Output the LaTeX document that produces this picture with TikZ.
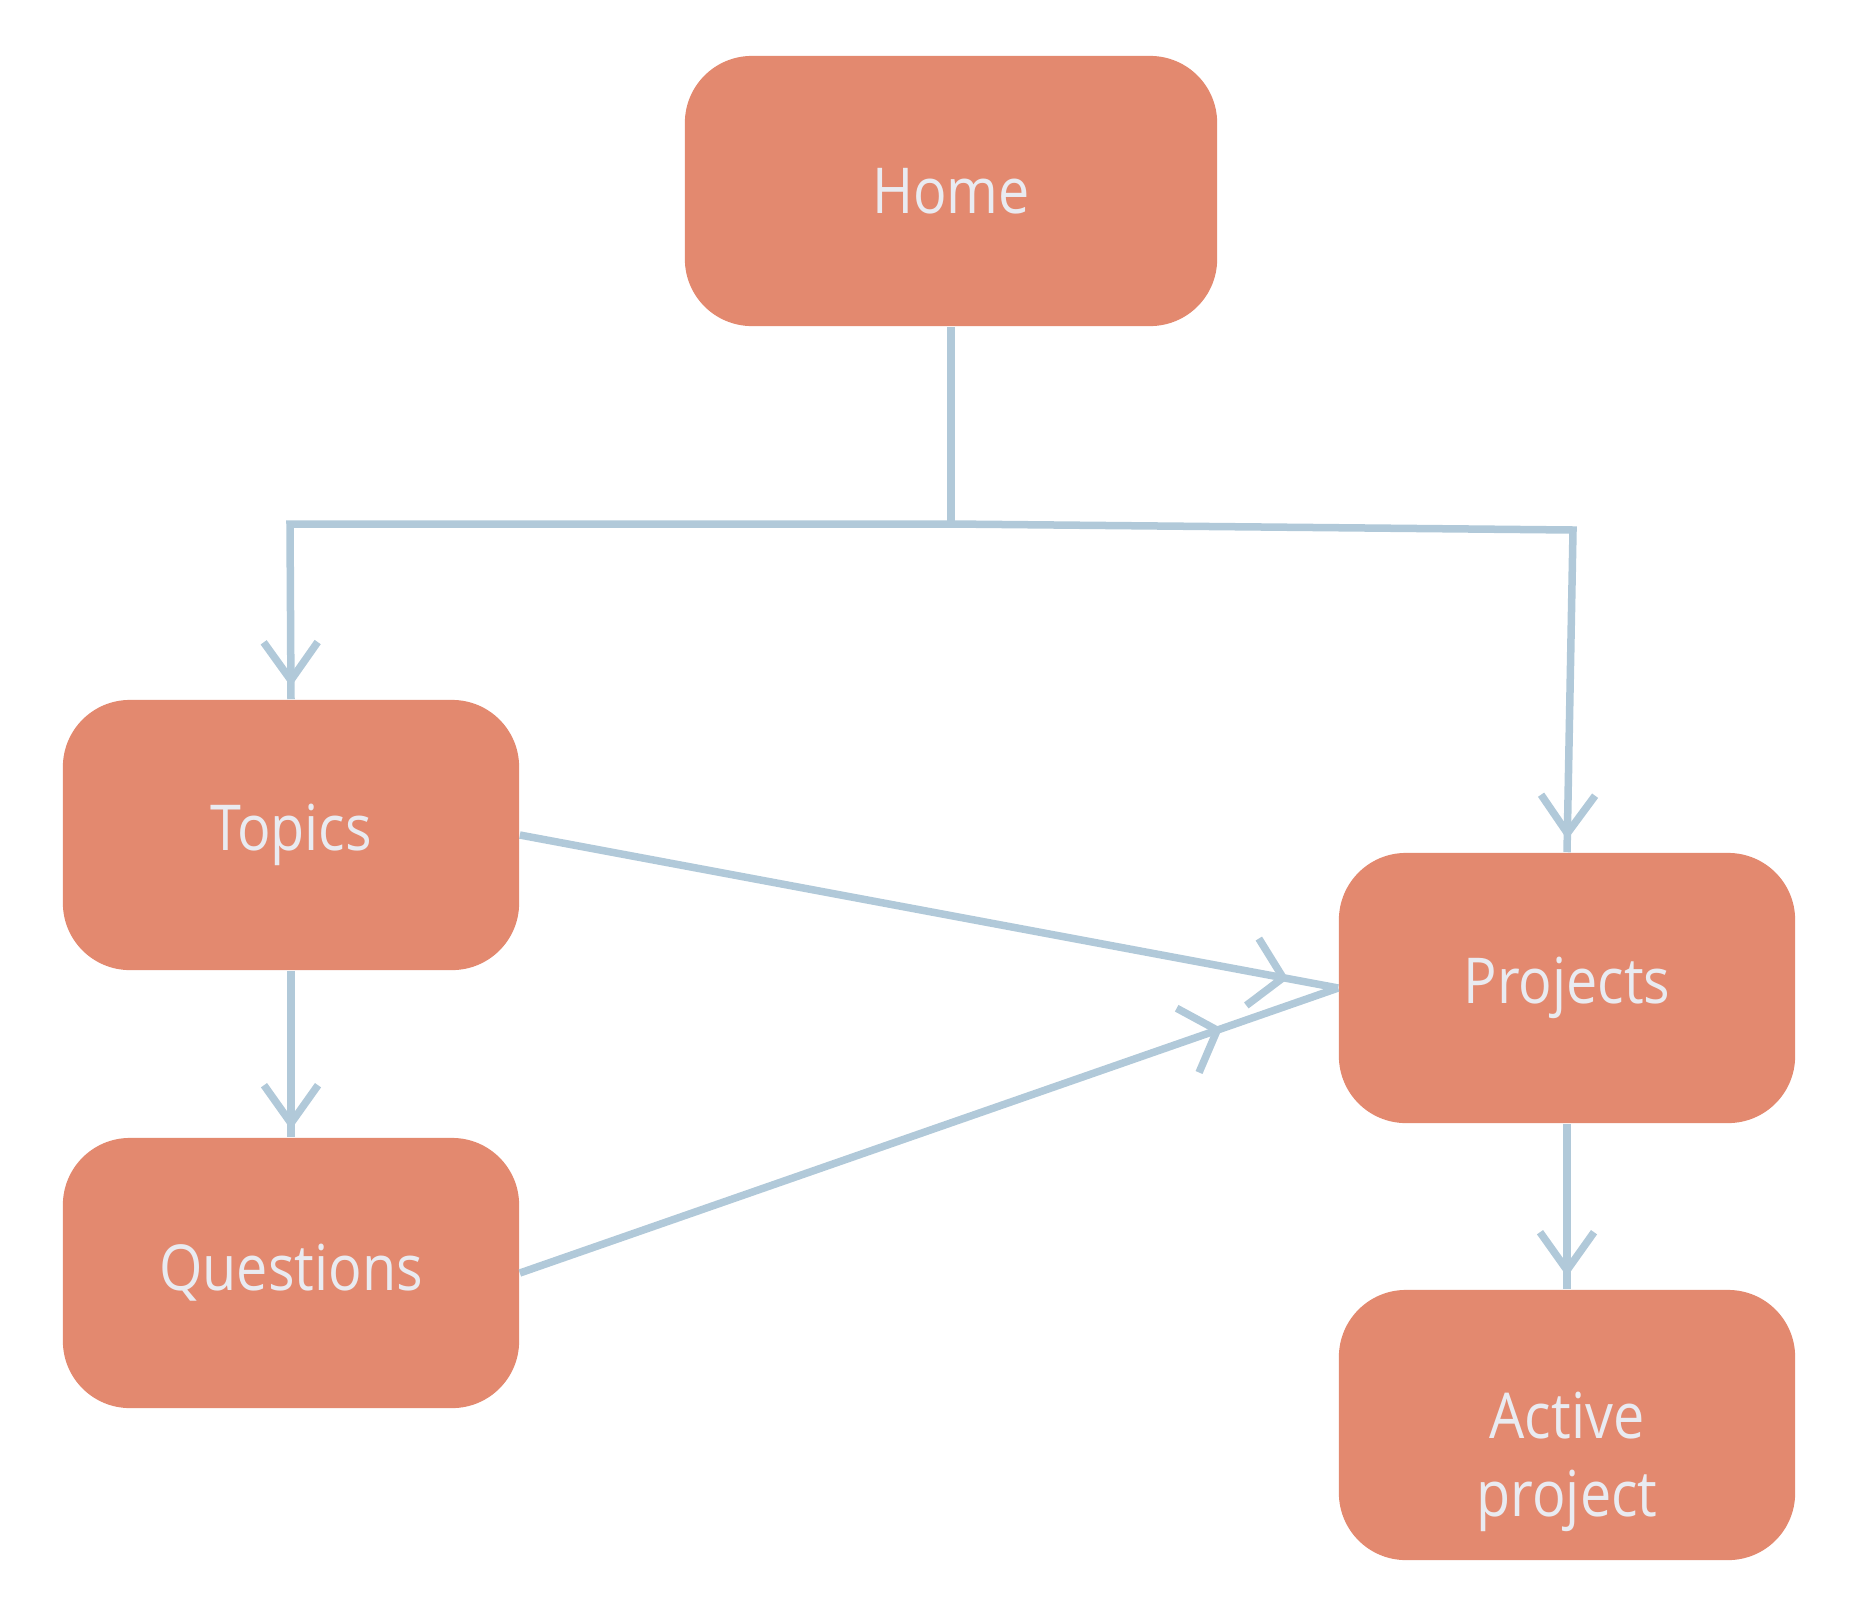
\documentclass[tikz,border=0pt]{standalone}
\usepackage{fontspec}
\setmainfont{Open Sans}[FakeStretch=0.88]
\usetikzlibrary{decorations.markings}

\definecolor{boxfill}{HTML}{E3896F}
\definecolor{linkblue}{HTML}{B1C9D9}
\definecolor{boxtext}{HTML}{E9EBF1}

\tikzset{
  pagebox/.style={x=0.01cm, y=-0.01cm},
  card/.style={rectangle, rounded corners=0.67cm, fill=boxfill,
    minimum width=4.56cm, minimum height=2.70cm, inner sep=0pt,
    text=boxtext, font=\fontsize{18}{20}\selectfont},
  cardtext/.style={text=boxtext, font=\fontsize{18}{22}\selectfont, align=center},
  link/.style={draw=linkblue, line width=0.075cm, line join=miter},
  % open barbed tip, drawn a given distance before the end of the connector
  tipat/.style={postaction={decorate, decoration={markings,
    mark=at position -#1 with {\draw[linkblue, line width=0.075cm, line cap=butt]
      (-0.38cm,0.27cm) -- (0cm,0cm) -- (-0.38cm,-0.27cm);}}}},
  widetipat/.style={postaction={decorate, decoration={markings,
    mark=at position -#1 with {\draw[linkblue, line width=0.075cm, line cap=butt]
      (-0.31cm,0.34cm) -- (0cm,0cm) -- (-0.31cm,-0.34cm);}}}}
}

\begin{document}
\begin{tikzpicture}[pagebox]
  \useasboundingbox (0,0) rectangle (1858,1618);

  % cards
  \node[card, minimum width=5.32cm] (home) at (951,191) {Home};
  \node[card] (topics)    at (291,835)  {Topics};
  \node[card] (questions) at (291,1273) {Questions};
  \node[card] (projects)  at (1567,988) {Projects};
  \node[card] (active)    at (1567,1425) {};
  \node[cardtext] (activelabel) at (1567,1462) {Active\\project};

  % routing points of the branch below Home
  \coordinate (split)     at (951,524);
  \coordinate (leftturn)  at (290,524);
  \coordinate (rightturn) at (1573,530);

  % connectors
  \draw[link] (home.south) -- (split);
  \draw[link, tipat=0.19cm] (split) -- (leftturn) -- (topics.north);
  \draw[link, tipat=0.19cm] (split) -- (rightturn) -- (projects.north);
  \draw[link, tipat=0.14cm] (topics.south) -- (questions.north);
  \draw[link, widetipat=0.56cm] (topics.east) -- (projects.west);
  \draw[link, widetipat=1.28cm] (questions.east) -- (projects.west);
  \draw[link, tipat=0.19cm] (projects.south) -- (active.north);
\end{tikzpicture}
\end{document}
